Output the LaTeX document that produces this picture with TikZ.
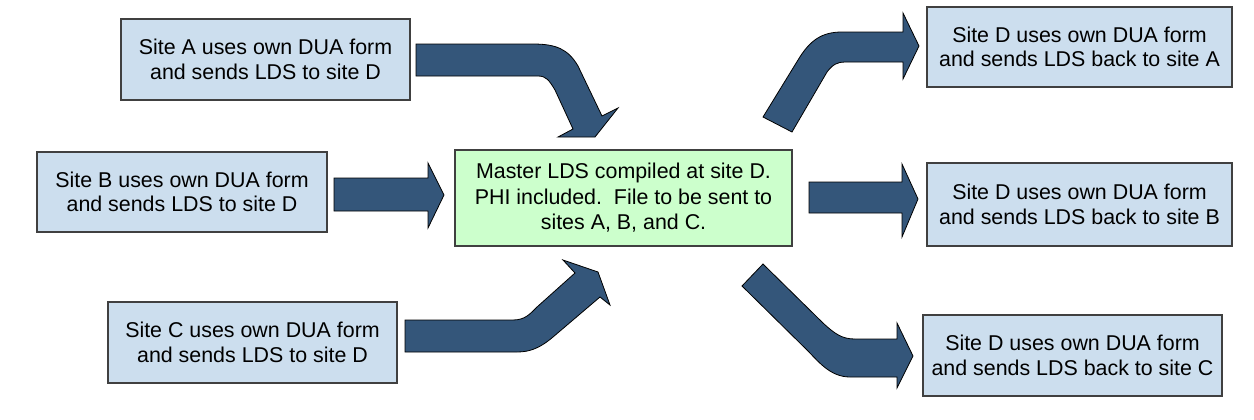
\documentclass[tikz,border=0pt]{standalone}
\usepackage{fontspec}
\setmainfont{Liberation Sans}
\definecolor{boxblue}{HTML}{CCDEEE}
\definecolor{boxgreen}{HTML}{CCFFCC}
\definecolor{arrowblue}{HTML}{34567A}
\definecolor{edgegray}{HTML}{404040}
\begin{document}
\begin{tikzpicture}[x=0.5pt,y=-0.5pt,
  sitebox/.style={draw=edgegray,line width=0.6pt,fill=boxblue,inner sep=0pt,align=center,
    font=\fontsize{10.7}{12.2}\selectfont},
  masterbox/.style={sitebox,fill=boxgreen,font=\fontsize{10.7}{12.8}\selectfont},
  blockarrow/.style={fill=arrowblue,draw=black,line width=0.4pt,line join=miter}]
\useasboundingbox (0,0) rectangle (1254,419);
% nodes
\node[sitebox,minimum width=144.5pt,minimum height=40.5pt] (A) at (265.5,59.5) {Site A uses own DUA form\\and sends LDS to site D};
\node[sitebox,minimum width=145pt,minimum height=40pt] (B) at (182,192) {Site B uses own DUA form\\and sends LDS to site D};
\node[sitebox,minimum width=144.5pt,minimum height=40.5pt] (C) at (252.5,342.5) {Site C uses own DUA form\\and sends LDS to site D};
\node[masterbox,minimum width=168.5pt,minimum height=48pt] (M) at (623.5,198) {Master LDS compiled at site D.\\PHI included.\ \ File to be sent to\\sites A, B, and C.};
\node[sitebox,minimum width=152.5pt,minimum height=40pt] (DA) at (1079.5,47) {Site D uses own DUA form\\and sends LDS back to site A};
\node[sitebox,minimum width=152.5pt,minimum height=41.5pt] (DB) at (1079.5,204.5) {Site D uses own DUA form\\and sends LDS back to site B};
\node[sitebox,minimum width=149.5pt,minimum height=40.5pt] (DC) at (1072.5,355.5) {Site D uses own DUA form\\and sends LDS back to site C};
% arrow A -> M
\draw[blockarrow] (416,44) -- (533,44) .. controls (556,44) and (568,49) .. (578,66)
  -- (602,116) -- (618,108) -- (595,137) -- (558,137) -- (573,129) -- (555,90)
  .. controls (549,80) and (546,76) .. (538,76) -- (416,76) -- cycle;
% arrow B -> M
\draw[blockarrow] (334,178) -- (428,178) -- (428,163) -- (444,195) -- (428,228) -- (428,211) -- (334,211) -- cycle;
% arrow C -> M
\draw[blockarrow] (405,320) -- (513,320) .. controls (525,320) and (530,314) .. (537,307)
  -- (575,273) -- (563,260) -- (598,272) -- (610,305) -- (600,297) -- (553,337)
  .. controls (540,348) and (530,352) .. (517,352) -- (405,352) -- cycle;
% arrow M -> DA
\draw[blockarrow] (763,117) -- (798,60) .. controls (810,40) and (822,32) .. (842,32)
  -- (903,32) -- (903,13) -- (919,46) -- (903,79) -- (903,62) -- (845,62)
  .. controls (838,62) and (833,64) .. (827,72) -- (792,132) -- cycle;
% arrow M -> DB
\draw[blockarrow] (809,182) -- (902,182) -- (902,164) -- (918,199) -- (902,237) -- (902,213) -- (809,213) -- cycle;
% arrow M -> DC
\draw[blockarrow] (763,264) -- (823,323) .. controls (835,334) and (842,339) .. (855,339)
  -- (897,339) -- (897,323) -- (913,356) -- (897,388) -- (897,377) -- (850,377)
  .. controls (830,377) and (818,361) .. (807,350) -- (742,286) -- cycle;
\end{tikzpicture}
\end{document}
